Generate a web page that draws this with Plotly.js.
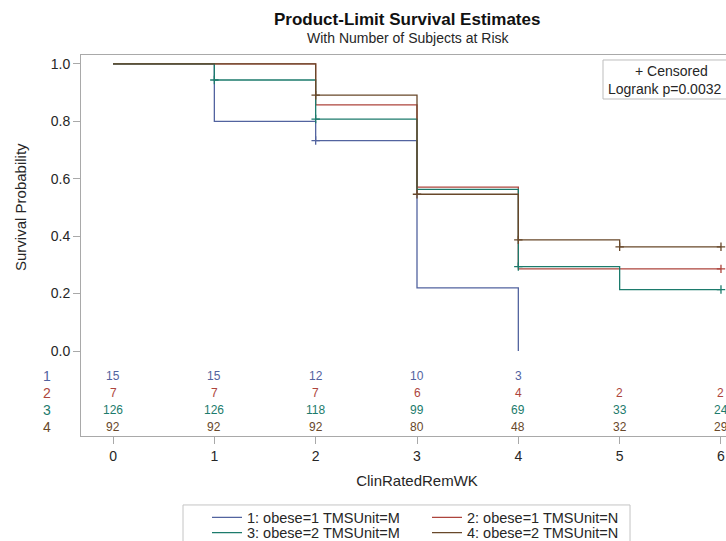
<!DOCTYPE html>
<html>
<head>
<meta charset="utf-8">
<script src="https://cdn.plot.ly/plotly-3.0.1.min.js"></script>
<style>
  html, body { margin: 0; padding: 0; overflow: hidden; background: #fff; }
  #chart { width: 760px; height: 541px; }
</style>
</head>
<body>
<div id="chart"></div>
<script>
// ---- data ----
const groupNames = ['1: obese=1 TMSUnit=M', '2: obese=1 TMSUnit=N', '3: obese=2 TMSUnit=M', '4: obese=2 TMSUnit=N'];
const groupIds = ['1', '2', '3', '4'];

const timeG1 = [0, 1, 2, 3, 4];
const survG1 = [1.0, 0.8, 0.733, 0.22, 0.0];
const timeG2 = [0, 2, 3, 4, 6];
const survG2 = [1.0, 0.857, 0.571, 0.286, 0.286];
const timeG3 = [0, 1, 2, 3, 4, 5, 6];
const survG3 = [1.0, 0.944, 0.808, 0.563, 0.294, 0.214, 0.214];
const timeG4 = [0, 2, 3, 4, 5, 6];
const survG4 = [1.0, 0.891, 0.546, 0.387, 0.363, 0.363];

const censTimeG1 = [2];
const censSurvG1 = [0.733];
const censTimeG2 = [6];
const censSurvG2 = [0.286];
const censTimeG3 = [1, 2, 4, 6];
const censSurvG3 = [0.944, 0.808, 0.294, 0.214];
const censTimeG4 = [2, 3, 4, 5, 6];
const censSurvG4 = [0.891, 0.546, 0.387, 0.363, 0.363];

const riskTimes = [0, 1, 2, 3, 4, 5, 6];
const riskG1 = [15, 15, 12, 10, 3, null, null];
const riskG2 = [7, 7, 7, 6, 4, 2, 2];
const riskG3 = [126, 126, 118, 99, 69, 33, 24];
const riskG4 = [92, 92, 92, 80, 48, 32, 29];

const xTickVals = [0, 1, 2, 3, 4, 5, 6];
const yTickVals = [0, 0.2, 0.4, 0.6, 0.8, 1.0];

const chartTitle = 'Product-Limit Survival Estimates';
const chartSubtitle = 'With Number of Subjects at Risk';
const xTitle = 'ClinRatedRemWK';
const yTitle = 'Survival Probability';
const insetLine1 = '+ Censored';
const insetLine2 = 'Logrank p=0.0032';

// ---- styles ----
const FONT = 'Liberation Sans, Arial, sans-serif';
const colors = ['#52639f', '#ad443c', '#1c7b6c', '#68482a'];
const frameColor = '#a9a9a9';
const textColor = '#262626';

const times = [timeG1, timeG2, timeG3, timeG4];
const survs = [survG1, survG2, survG3, survG4];
const censT = [censTimeG1, censTimeG2, censTimeG3, censTimeG4];
const censS = [censSurvG1, censSurvG2, censSurvG3, censSurvG4];
const risks = [riskG1, riskG2, riskG3, riskG4];
const riskRowY = [-0.087, -0.146, -0.207, -0.266];
const legendOf = ['legend', 'legend', 'legend2', 'legend2'];

const traces = [];
for (let g = 0; g < 4; g++) {
  traces.push({
    type: 'scatter', mode: 'lines', name: groupNames[g],
    x: times[g], y: survs[g],
    line: { shape: 'hv', color: colors[g], width: 1.3 },
    legend: legendOf[g], showlegend: true, cliponaxis: false
  });
}
for (let g = 0; g < 4; g++) {
  traces.push({
    type: 'scatter', mode: 'markers', name: groupNames[g] + ' censored',
    x: censT[g], y: censS[g], showlegend: false, cliponaxis: false,
    marker: { symbol: 'cross-thin', size: 6, color: colors[g], line: { color: colors[g], width: 1.3 } }
  });
}

const annotations = [];
// titles
annotations.push({ xref: 'paper', yref: 'paper', x: 0.485, y: 1.094, xanchor: 'center', yanchor: 'middle',
  text: '<b>' + chartTitle + '</b>', showarrow: false, font: { family: FONT, size: 17, color: '#111' } });
annotations.push({ xref: 'paper', yref: 'paper', x: 0.487, y: 1.044, xanchor: 'center', yanchor: 'middle',
  text: chartSubtitle, showarrow: false, font: { family: FONT, size: 14, color: textColor } });
// y title (centred on 0..1)
annotations.push({ xref: 'paper', yref: 'y', x: -0.090, y: 0.5, xanchor: 'center', yanchor: 'middle',
  text: yTitle, textangle: -90, showarrow: false, font: { family: FONT, size: 15, color: textColor } });
// inset box texts
annotations.push({ xref: 'paper', yref: 'paper', x: 0.8780, y: 0.9580, xanchor: 'center', yanchor: 'middle',
  text: insetLine1, showarrow: false, font: { family: FONT, size: 14, color: textColor } });
annotations.push({ xref: 'paper', yref: 'paper', x: 0.8690, y: 0.9108, xanchor: 'center', yanchor: 'middle',
  text: insetLine2, showarrow: false, font: { family: FONT, size: 14, color: textColor } });
// at-risk table
for (let g = 0; g < 4; g++) {
  annotations.push({ xref: 'paper', yref: 'y', x: -0.0506, y: riskRowY[g], xanchor: 'center', yanchor: 'middle',
    text: groupIds[g], showarrow: false, font: { family: FONT, size: 14, color: colors[g] } });
  for (let i = 0; i < riskTimes.length; i++) {
    if (risks[g][i] === null) continue;
    annotations.push({ xref: 'x', yref: 'y', x: riskTimes[i], y: riskRowY[g], xanchor: 'center', yanchor: 'middle',
      text: String(risks[g][i]), showarrow: false, font: { family: FONT, size: 12, color: colors[g] } });
  }
}

const legendCommon = {
  orientation: 'h', xanchor: 'left', yanchor: 'top',
  entrywidth: 175, entrywidthmode: 'pixels', borderwidth: 0, bgcolor: 'rgba(0,0,0,0)',
  font: { family: FONT, size: 14.5, color: textColor }, tracegroupgap: 0
};

const layout = {
  width: 760, height: 541,
  margin: { l: 81, r: 7, t: 55, b: 105, autoexpand: false },
  paper_bgcolor: '#fff', plot_bgcolor: '#fff',
  font: { family: FONT, size: 14, color: textColor },
  showlegend: true,
  xaxis: {
    range: [-0.316, 6.316], tickvals: xTickVals, ticks: 'outside', ticklen: 7, tickcolor: frameColor,
    showline: true, linecolor: frameColor, linewidth: 1, mirror: true, showgrid: false, zeroline: false,
    tickfont: { family: FONT, size: 14, color: textColor },
    title: { text: xTitle, font: { family: FONT, size: 15, color: textColor }, standoff: 12 }
  },
  yaxis: {
    range: [-0.296, 1.031], tickvals: yTickVals, tickformat: '.1f', ticks: 'outside', ticklen: 7, tickcolor: frameColor,
    showline: true, linecolor: frameColor, linewidth: 1, mirror: true, showgrid: false, zeroline: false,
    tickfont: { family: FONT, size: 14, color: textColor }
  },
  legend: Object.assign({}, legendCommon, { x: 0.1875, y: -0.172 }),
  legend2: Object.assign({}, legendCommon, { x: 0.1875, y: -0.212 }),
  shapes: [
    { type: 'rect', xref: 'paper', yref: 'paper', x0: 0.1518, x1: 0.817, y0: -0.181, y1: -0.30,
      line: { color: '#c4c4c4', width: 1 }, fillcolor: 'rgba(0,0,0,0)', layer: 'below' },
    { type: 'rect', xref: 'paper', yref: 'paper', x0: 0.7768, x1: 0.985, y0: 0.9869, y1: 0.8845,
      line: { color: '#bdbdbd', width: 1 }, fillcolor: '#fff', layer: 'below' }
  ],
  annotations: annotations,
  hovermode: false
};

Plotly.newPlot('chart', traces, layout, { displayModeBar: false, staticPlot: true });
</script>
</body>
</html>
